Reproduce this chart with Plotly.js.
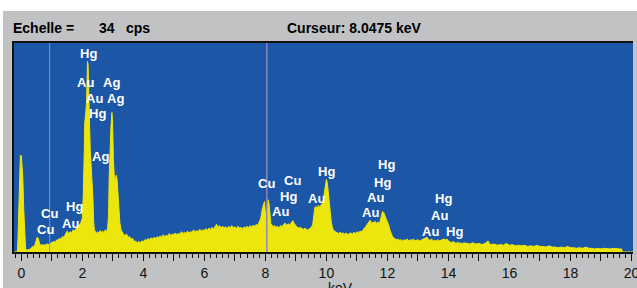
<!DOCTYPE html>
<html><head><meta charset="utf-8">
<script src="https://cdn.plot.ly/plotly-3.0.1.min.js"></script>
<style>
html,body{margin:0;padding:0;background:#fff;width:637px;height:288px;overflow:hidden}
#chart{position:absolute;left:3px;top:11px;width:634px;height:277px}
</style></head><body><div id="chart"></div>
<script>
// Spectrum: energy (keV) and counts (cps)
const energy = [
-0.24,-0.13,-0.11,-0.09,-0.07,-0.05,-0.03,0.00,0.02,0.05,0.08,0.11,0.14,0.20,0.25,0.30,0.35,0.40,0.45,0.48,
0.52,0.56,0.60,0.65,0.70,0.75,0.80,0.85,0.90,0.95,1.00,1.05,1.10,1.15,1.20,1.25,1.30,1.35,1.40,1.45,
1.50,1.55,1.60,1.65,1.70,1.75,1.80,1.85,1.90,1.95,2.00,2.03,2.06,2.08,2.11,2.14,2.17,2.19,2.21,2.23,
2.26,2.29,2.32,2.35,2.37,2.40,2.43,2.47,2.51,2.55,2.59,2.63,2.67,2.71,2.75,2.79,2.83,2.86,2.88,2.91,
2.94,2.97,2.99,3.02,3.05,3.08,3.11,3.14,3.17,3.20,3.23,3.27,3.31,3.36,
3.40,3.45,3.50,3.55,3.60,3.65,3.70,3.75,3.80,3.85,3.90,3.95,4.00,4.05,4.10,4.15,4.20,4.25,4.30,4.35,
4.40,4.45,4.50,4.55,4.60,4.65,4.70,4.75,4.80,4.85,4.90,4.95,5.00,5.05,5.10,5.15,5.20,5.25,5.30,5.35,
5.40,5.45,5.50,5.55,5.60,5.65,5.70,5.75,5.80,5.85,5.90,5.95,6.00,6.05,6.10,6.15,6.20,6.25,6.30,6.35,
6.40,6.45,6.50,6.55,6.60,6.65,6.70,6.75,6.80,6.85,6.90,6.95,7.00,7.05,7.10,7.15,7.20,7.25,7.30,7.35,
7.40,7.45,7.50,7.55,7.60,7.65,7.70,7.75,7.80,7.85,7.90,7.94,7.97,8.00,8.03,8.06,8.09,8.12,8.15,8.18,
8.22,8.26,8.30,8.35,8.40,8.45,8.50,8.55,8.60,8.65,8.70,8.75,8.80,8.85,8.90,8.95,9.00,9.05,9.10,9.15,
9.20,9.25,9.30,9.35,9.40,9.45,9.50,9.55,9.58,9.62,9.66,9.70,9.74,9.78,9.82,9.86,9.90,9.94,9.97,10.00,
10.03,10.06,10.09,10.12,10.16,10.20,10.25,10.30,10.35,10.40,10.45,10.50,10.55,10.60,10.65,10.70,10.75,10.80,10.85,10.90,
10.95,11.00,11.05,11.10,11.15,11.20,11.25,11.30,11.35,11.40,11.44,11.48,11.52,11.56,11.60,11.64,11.68,11.72,11.76,11.80,
11.84,11.88,11.92,11.96,12.00,12.04,12.08,12.12,12.16,12.20,12.25,12.30,12.35,12.40,12.45,12.50,12.55,12.60,12.65,12.70,
12.75,12.80,12.85,12.90,12.95,13.00,13.05,13.10,13.15,13.20,13.25,13.30,13.35,13.40,13.45,13.50,13.55,13.60,13.65,13.70,
13.75,13.80,13.85,13.90,13.95,14.00,14.05,14.10,14.15,14.20,14.25,14.30,14.35,14.40,14.45,14.50,14.60,14.70,14.80,14.90,
15.00,15.10,15.20,15.30,15.35,15.40,15.50,15.60,15.70,15.80,15.90,16.00,16.10,16.20,16.30,16.40,16.50,16.60,16.70,16.80,
16.90,17.00,17.10,17.20,17.30,17.40,17.50,17.60,17.70,17.80,17.90,18.00,18.10,18.20,18.30,18.40,18.50,18.60,18.70,18.80,
18.90,19.00,19.10,19.20,19.30,19.40,19.50,19.60,19.68,19.70,20.05
];
const counts = [
0,0,2.0,6.3,10.0,14.8,15.7,15.7,14.5,12.0,7.0,2.5,0.6,0.3,0.4,0.5,0.8,0.9,1.2,2.0,
2.4,2.2,1.3,1.1,1.2,1.1,1.2,1.3,1.2,1.4,1.5,1.7,1.6,1.9,2.0,2.2,2.1,2.5,2.4,2.8,
3.4,3.0,3.3,3.1,3.6,3.4,3.9,4.2,4.4,4.7,5.5,9.0,15.5,21.0,22.5,24.5,31.0,30.5,26.0,21.5,
16.5,14.0,11.5,8.5,5.0,3.3,3.4,2.9,3.3,3.0,3.5,3.1,3.4,3.0,3.6,3.2,3.9,6.0,12.0,17.0,
20.5,22.7,21.5,15.0,12.0,11.8,12.5,11.8,9.0,6.5,4.8,3.6,3.1,2.8,
2.7,2.9,2.4,2.5,2.1,2.2,1.7,1.8,1.5,1.7,1.5,1.8,1.7,2.0,1.9,2.2,2.0,2.3,2.1,2.4,
2.2,2.5,2.3,2.6,2.4,2.8,2.5,2.7,2.6,3.0,2.7,2.9,2.8,3.1,2.8,3.0,2.9,3.3,3.0,3.2,
3.0,3.4,3.1,3.3,3.2,3.6,3.2,3.5,3.3,3.7,3.4,3.6,3.5,3.8,3.5,3.9,3.6,4.0,3.7,4.1,
4.5,4.0,4.3,3.9,4.2,3.9,4.1,3.8,4.2,3.9,4.3,3.9,4.1,3.8,4.2,3.9,4.0,3.8,4.1,3.9,
4.2,3.9,4.3,4.0,4.4,4.1,4.5,4.3,4.8,5.5,7.0,8.0,8.2,6.5,6.0,7.5,8.5,7.8,5.5,4.6,
4.4,4.1,4.3,4.0,4.2,3.9,4.3,4.1,4.5,4.7,4.3,4.6,4.4,4.8,5.1,4.6,4.3,4.0,3.9,4.0,
3.8,3.7,3.9,3.6,3.6,3.8,4.0,4.4,5.8,7.2,7.4,7.0,7.6,7.2,7.6,7.8,8.5,10.0,11.0,11.8,
11.3,9.5,8.2,6.3,4.9,3.9,3.4,3.3,3.2,3.0,3.2,3.0,3.1,2.9,3.1,2.8,3.0,3.1,2.9,3.2,
3.0,3.3,3.1,3.4,3.3,3.6,3.8,4.2,4.6,5.0,5.2,4.6,4.9,4.7,5.0,4.6,4.9,4.7,5.0,5.8,
6.6,6.4,5.9,5.6,5.2,4.4,3.6,3.0,2.6,2.3,2.2,2.0,2.1,1.9,2.0,1.8,2.0,1.9,2.1,1.8,
2.0,1.9,2.1,1.8,1.9,2.0,1.8,1.9,2.0,2.1,2.2,2.4,2.0,1.9,2.1,1.8,1.9,1.8,2.0,1.8,
1.9,2.0,2.1,2.0,2.1,1.8,1.6,1.5,1.7,1.5,1.4,1.6,1.4,1.5,1.3,1.5,1.4,1.3,1.5,1.3,
1.4,1.2,1.4,1.8,1.3,1.2,1.3,1.1,1.2,1.1,1.4,1.1,1.2,1.0,1.1,1.0,1.1,0.9,1.0,0.9,
1.1,0.9,0.9,0.8,1.0,0.8,0.8,0.7,0.8,0.7,0.9,0.7,0.7,0.6,0.7,0.6,0.8,0.6,0.6,0.5,
0.6,0.5,0.6,0.5,0.5,0.6,0.5,0.5,0.5,0,0
];

// Element line labels (text, energy keV, height cps)
const labelText   = ["Hg","Au","Ag","Au","Ag","Hg","Ag","Hg","Cu","Au","Cu",
                     "Cu","Cu","Hg","Au","Hg","Au","Hg","Hg","Au","Au","Hg","Au","Au","Hg"];
const labelEnergy = [2.19,2.09,2.96,2.40,3.10,2.50,2.60,1.73,0.91,1.62,0.80,
                     8.05,8.90,8.75,8.48,9.99,9.69,11.96,11.85,11.60,11.46,13.84,13.71,13.40,14.19];
const labelCps    = [32.3,27.6,27.6,24.9,24.9,22.5,15.6,7.4,6.2,4.7,3.6,
                     11.2,11.7,9.1,6.6,13.1,8.7,14.2,11.3,8.9,6.5,8.7,6.0,3.4,3.3];

// Axis ticks
const tickValues = [0,1,2,3,4,5,6,7,8,9,10,11,12,13,14,15,16,17,18,19,20];
const tickLabels = ["0","","2","","4","","6","","8","","10","","12","","14","","16","","18","","20"];

const scaleCps = 34;
const cursorKeV = 8.0475;
const markerKeV = 0.93;
const headerLeft = "Echelle =";
const headerScale = "34";
const headerUnit = "cps";
const headerCursor = "Curseur: 8.0475 keV";
const axisUnit = "keV";

// layout geometry
const W = 634, H = 277, ML = 11, MR = 4, MT = 32, MB = 36;
const PW = W - ML - MR, PH = H - MT - MB;
const px = x => (x - 3 - ML) / PW;        // page x -> paper
const py = y => 1 - (y - 11 - MT) / PH;   // page y -> paper

const FONT = "Liberation Sans, Arial, sans-serif";

const annotations = labelText.map((t, i) => ({
  x: labelEnergy[i], y: labelCps[i], xref: 'x', yref: 'y',
  text: '<b>' + t + '</b>', showarrow: false,
  font: {family: FONT, size: 13, color: '#ffffff'},
  xanchor: 'center', yanchor: 'middle'
}));

const hdr = (txt, x) => ({
  x: px(x), y: py(27.5), xref: 'paper', yref: 'paper', text: '<b>' + txt + '</b>',
  showarrow: false, xanchor: 'left', yanchor: 'middle',
  font: {family: FONT, size: 14, color: '#000'}
});
annotations.push(hdr(headerLeft, 11));
annotations.push(hdr(headerScale, 97));
annotations.push(hdr(headerUnit, 124));
annotations.push(hdr(headerCursor, 285));
annotations.push({
  x: px(340), y: py(278), xref: 'paper', yref: 'paper', text: axisUnit,
  showarrow: false, xanchor: 'center', yanchor: 'top',
  font: {family: FONT, size: 14, color: '#111'}
});

const trace = {
  x: energy, y: counts, type: 'scatter', mode: 'lines',
  fill: 'tozeroy', fillcolor: '#ece60c',
  line: {color: '#ece60c', width: 1},
  hoverinfo: 'skip'
};

const layout = {
  width: W, height: H,
  margin: {l: ML, r: MR, t: MT, b: MB, pad: 0},
  paper_bgcolor: '#c0c2c4',
  plot_bgcolor: '#1b57a6',
  showlegend: false,
  xaxis: {
    range: [-0.239, 20.05], tickmode: 'array', tickvals: tickValues, ticktext: tickLabels,
    ticks: 'outside', ticklen: 7, tickwidth: 1, tickcolor: '#111',
    minor: {tickmode: 'linear', tick0: 0, dtick: 0.2, ticks: 'outside', ticklen: 4, tickwidth: 1, tickcolor: '#111', showgrid: false},
    tickfont: {family: FONT, size: 14, color: '#111'},
    ticklabelstandoff: 0, ticklabeloverflow: 'allow',
    showgrid: false, zeroline: false, showline: true, linecolor: '#111', linewidth: 2, mirror: true,
    fixedrange: true
  },
  yaxis: {
    range: [0, scaleCps], showticklabels: false, ticks: '', showgrid: false, zeroline: false,
    showline: true, linecolor: '#111', linewidth: 2, mirror: false, fixedrange: true
  },
  shapes: [
    {type: 'line', xref: 'x', yref: 'paper', x0: markerKeV, x1: markerKeV, y0: 0, y1: 1,
     line: {color: '#7d98cf', width: 1}, layer: 'above'},
    {type: 'line', xref: 'x', yref: 'paper', x0: cursorKeV, x1: cursorKeV, y0: 0, y1: 1,
     line: {color: '#8f86c6', width: 1.5}, layer: 'above'}
  ],
  annotations: annotations
};

Plotly.newPlot('chart', [trace], layout, {staticPlot: true, displayModeBar: false});
</script>
</body></html>
